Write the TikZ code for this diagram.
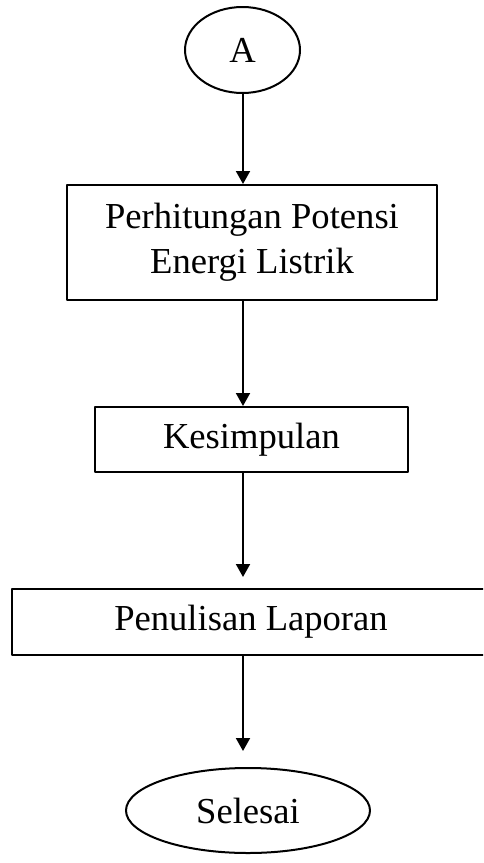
\documentclass[tikz,border=0pt]{standalone}
\usepackage{fontspec}
\setmainfont{Liberation Serif}
\usetikzlibrary{shapes.geometric,arrows.meta}
\begin{document}
\begin{tikzpicture}[x=1pt, y=-1pt, line width=2pt, line join=round, >={Triangle[length=13pt,width=14pt]},
		font=\fontsize{36.6}{45}\selectfont,
		kotak/.style={draw, rectangle, inner sep=0pt, align=center},
		oval/.style={draw, ellipse, inner sep=0pt}]
	\useasboundingbox (0,0) rectangle (483,863);
	\clip (0,0) rectangle (483,863);
	\coordinate (lajur) at (243,0);
	\node[oval, minimum width=115pt, minimum height=86pt] (A) at (242.5,50) {A};
	\node[kotak, minimum width=370pt, minimum height=115pt] (hitung) at (252,242.5) {Perhitungan Potensi\\Energi Listrik};
	\node[kotak, minimum width=313pt, minimum height=65pt] (simpul) at (251.5,439.5) {Kesimpulan};
	\node[kotak, minimum width=478pt, minimum height=66pt] (lapor) at (251,622) {Penulisan Laporan};
	\node[oval, minimum width=244pt, minimum height=85pt] (selesai) at (248,810.5) {Selesai};
	\draw[->] (A.south -| lajur) -- (hitung.north -| lajur);
	\draw[->] (hitung.south -| lajur) -- (simpul.north -| lajur);
	\draw[->, shorten >=11pt] (simpul.south -| lajur) -- (lapor.north -| lajur);
	\draw[->, shorten >=16pt] (lapor.south -| lajur) -- (selesai.north -| lajur);
\end{tikzpicture}
\end{document}
